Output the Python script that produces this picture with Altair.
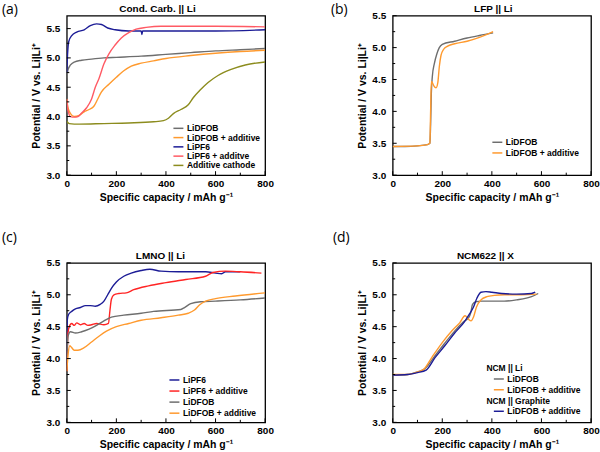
import altair as alt
import pandas as pd

FONT = "Liberation Sans"
W, H = 199, 160

X_TICKS = [0, 200, 400, 600, 800]
X_MINOR = [100, 300, 500, 700]
Y_TICKS = [3.0, 3.5, 4.0, 4.5, 5.0, 5.5]
Y_MINOR = [3.25, 3.75, 4.25, 4.75, 5.25]

GREY, ORANGE, BLUE, PINK, OLIVE, RED = "#6e6e6e", "#ff9a2e", "#1c1c96", "#ff5a64", "#8c8c1e", "#ff2424"

# ---------------- Panel (a): Cond. Carb. || Li ----------------
a_dfob_x = [0, 5, 15, 30, 60, 100, 150, 200, 300, 400, 500, 600, 700, 800]
a_dfob_y = [4.65, 4.8, 4.88, 4.93, 4.96, 4.98, 5.0, 5.01, 5.03, 5.06, 5.09, 5.12, 5.14, 5.16]
a_dfobadd_x = [0, 5, 15, 30, 50, 70, 90, 110, 125, 140, 170, 200, 230, 260, 300, 350, 400, 500, 600, 700, 800]
a_dfobadd_y = [4.3, 4.15, 4.05, 4.0, 4.02, 4.08, 4.12, 4.18, 4.3, 4.42, 4.55, 4.67, 4.78, 4.86, 4.91, 4.95, 4.99, 5.04, 5.08, 5.11, 5.13]
a_pf6_x = [0, 3, 8, 20, 40, 70, 95, 120, 140, 165, 195, 250, 300, 303, 306, 400, 600, 800]
a_pf6_y = [4.75, 5.05, 5.28, 5.38, 5.44, 5.48, 5.55, 5.58, 5.57, 5.51, 5.48, 5.46, 5.46, 5.40, 5.46, 5.46, 5.46, 5.48]
a_pf6add_x = [0, 5, 15, 30, 45, 60, 80, 100, 115, 130, 150, 170, 195, 220, 250, 280, 320, 380, 500, 600, 800]
a_pf6add_y = [4.3, 4.1, 4.0, 3.99, 4.0, 4.06, 4.15, 4.3, 4.5, 4.65, 4.9, 5.07, 5.22, 5.34, 5.43, 5.49, 5.52, 5.54, 5.54, 5.54, 5.53]
a_cath_x = [0, 10, 50, 150, 250, 350, 390, 410, 430, 460, 490, 510, 540, 570, 610, 660, 720, 800]
a_cath_y = [3.92, 3.88, 3.87, 3.88, 3.89, 3.91, 3.93, 3.97, 4.05, 4.12, 4.2, 4.32, 4.46, 4.58, 4.7, 4.8, 4.88, 4.93]

# ---------------- Panel (b): LFP || Li ----------------
b_dfob_x = [0, 50, 100, 140, 150, 153, 156, 160, 168, 178, 188, 200, 250, 300, 350, 405]
b_dfob_y = [3.45, 3.45, 3.46, 3.48, 3.5, 3.8, 4.3, 4.55, 4.75, 4.9, 5.0, 5.05, 5.1, 5.15, 5.19, 5.23]
b_dfobadd_x = [0, 100, 140, 150, 153, 156, 160, 166, 175, 182, 188, 195, 205, 220, 250, 300, 350, 405]
b_dfobadd_y = [3.45, 3.46, 3.48, 3.5, 4.0, 4.47, 4.45, 4.4, 4.37, 4.45, 4.7, 4.88, 4.97, 5.02, 5.06, 5.1, 5.16, 5.25]

# ---------------- Panel (c): LMNO || Li ----------------
c_pf6_x = [0, 2, 7, 20, 35, 55, 75, 95, 115, 135, 150, 165, 180, 200, 230, 260, 300, 335, 380, 450, 560, 600, 625, 640, 700]
c_pf6_y = [3.9, 4.6, 4.69, 4.74, 4.78, 4.8, 4.83, 4.83, 4.82, 4.85, 4.9, 5.0, 5.1, 5.2, 5.29, 5.34, 5.38, 5.4, 5.37, 5.36, 5.36, 5.34, 5.33, 5.36, 5.36]
c_pf6add_x = [0, 5, 12, 20, 30, 40, 55, 70, 85, 100, 120, 150, 168, 174, 180, 190, 210, 240, 270, 330, 400, 480, 560, 590, 640, 700, 785]
c_pf6add_y = [3.8, 4.4, 4.52, 4.55, 4.52, 4.56, 4.53, 4.55, 4.52, 4.53, 4.55, 4.53, 4.55, 4.75, 4.93, 5.0, 5.02, 5.03, 5.08, 5.14, 5.19, 5.24, 5.29, 5.35, 5.37, 5.36, 5.34]
c_dfob_x = [0, 5, 15, 35, 60, 90, 120, 150, 180, 230, 300, 350, 460, 475, 500, 540, 600, 700, 800]
c_dfob_y = [3.95, 4.35, 4.42, 4.4, 4.42, 4.46, 4.52, 4.59, 4.65, 4.68, 4.71, 4.74, 4.77, 4.8, 4.86, 4.89, 4.9, 4.92, 4.95]
c_dfobadd_x = [0, 5, 12, 18, 30, 45, 70, 100, 130, 160, 200, 250, 300, 380, 450, 490, 515, 535, 560, 600, 680, 800]
c_dfobadd_y = [3.8, 4.05, 4.2, 4.18, 4.13, 4.13, 4.17, 4.26, 4.35, 4.43, 4.5, 4.55, 4.6, 4.64, 4.68, 4.71, 4.76, 4.84, 4.9, 4.94, 4.98, 5.03]

# ---------------- Panel (d): NCM622 || X ----------------
d_li_dfob_x = [0, 60, 100, 130, 170, 210, 250, 290, 305, 315, 322, 335, 360, 450, 500, 560, 587]
d_li_dfob_y = [3.74, 3.75, 3.79, 3.84, 4.04, 4.24, 4.43, 4.59, 4.63, 4.72, 4.85, 4.89, 4.9, 4.9, 4.92, 4.97, 5.02]
d_li_dfobadd_x = [0, 60, 100, 125, 160, 200, 240, 270, 292, 305, 316, 326, 338, 356, 380, 410, 450, 520, 580]
d_li_dfobadd_y = [3.75, 3.75, 3.79, 3.83, 4.03, 4.25, 4.44, 4.56, 4.67, 4.62, 4.59, 4.65, 4.81, 4.92, 4.97, 4.99, 5.0, 5.0, 5.01]
d_gr_dfobadd_x = [0, 60, 100, 135, 170, 210, 250, 290, 310, 325, 340, 356, 376, 400, 440, 500, 560, 575]
d_gr_dfobadd_y = [3.74, 3.75, 3.78, 3.82, 4.01, 4.2, 4.4, 4.58, 4.7, 4.8, 4.95, 5.04, 5.05, 5.04, 5.02, 5.01, 5.02, 5.04]

XTITLE = "Specific capacity / mAh g⁻¹"
YTITLE = "Potential / V vs. Li|Li⁺"

ONE = pd.DataFrame({"a": [0]})


def make_panel(series, ydom, title, title_dx, label, label_dx, label_dy, legend, anchor=None):
    rows = []
    for key, xs, ys, col in series:
        for i, (x, y) in enumerate(zip(xs, ys)):
            rows.append({"s": key, "cap": x, "v": y, "i": i})
    df = pd.DataFrame(rows)
    xsc = alt.Scale(domain=[0, 800], nice=False, zero=False)
    ysc = alt.Scale(domain=ydom, nice=False, zero=False)
    xax = alt.Axis(values=X_TICKS, title=XTITLE, labelPadding=3, titlePadding=4, labelFlush=False)
    yax = alt.Axis(values=Y_TICKS, format=".1f", title=YTITLE, labelPadding=7, titlePadding=4, labelFlush=False)

    lines = alt.Chart(df).mark_line(strokeWidth=1.4, interpolate="monotone", clip=True).encode(
        x=alt.X("cap:Q", scale=xsc, axis=xax),
        y=alt.Y("v:Q", scale=ysc, axis=yax),
        color=alt.Color("s:N", scale=alt.Scale(domain=[s[0] for s in series], range=[s[3] for s in series]),
                        legend=None),
        order="i:Q",
    )

    layers = [lines]
    for vals, ln in ((X_TICKS, 4), (X_MINOR, 2.5)):
        layers.append(alt.Chart(pd.DataFrame({"cap": vals})).mark_rule(color="black", strokeWidth=1).encode(
            x=alt.X("cap:Q", scale=xsc, axis=xax), y=alt.value(H), y2=alt.value(H - ln)))
    for vals, ln in ((Y_TICKS, 4), (Y_MINOR, 2.5)):
        layers.append(alt.Chart(pd.DataFrame({"v": vals})).mark_rule(color="black", strokeWidth=1).encode(
            y=alt.Y("v:Q", scale=ysc, axis=yax), x=alt.value(0), x2=alt.value(ln)))

    # legend entries (pixel placement inside the plot area)
    for lab, col, lx, ly, tx in legend:
        if col:
            layers.append(alt.Chart(ONE).mark_rule(strokeWidth=1.5, color=col).encode(
                x=alt.value(lx), x2=alt.value(lx + 10), y=alt.value(ly)))
        layers.append(alt.Chart(ONE).mark_text(text=lab, align="left", baseline="middle", font=FONT,
                                               fontWeight="bold", fontSize=8.5, color="black").encode(
            x=alt.value(tx), y=alt.value(ly)))

    layers.append(alt.Chart(ONE).mark_text(text=title, align="center", baseline="alphabetic", font=FONT,
                                           fontWeight="bold", fontSize=10, color="black").encode(
        x=alt.value(title_dx), y=alt.value(-4)))
    layers.append(alt.Chart(ONE).mark_text(text=label, align="left", baseline="top", font="Open Sans",
                                           fontSize=14, color="black").encode(
        x=alt.value(label_dx), y=alt.value(label_dy)))
    if anchor:
        layers.append(alt.Chart(ONE).mark_rule(strokeWidth=0, opacity=0).encode(
            x=alt.value(anchor[0]), x2=alt.value(anchor[0] + 1), y=alt.value(anchor[1])))
    return alt.layer(*layers).properties(width=W, height=H)


def leg_rows(labels, colors, x0, y0, dy, hx=None):
    out = []
    for k, (lab, col) in enumerate(zip(labels, colors)):
        t = (x0 + 13.5) if col else hx
        out.append([lab, col, x0, y0 + k * dy, t])
    return out


pa = make_panel(
    [("LiDFOB", a_dfob_x, a_dfob_y, GREY), ("LiDFOB + additive", a_dfobadd_x, a_dfobadd_y, ORANGE),
     ("LiPF6", a_pf6_x, a_pf6_y, BLUE), ("LiPF6 + additve", a_pf6add_x, a_pf6add_y, PINK),
     ("Additive cathode", a_cath_x, a_cath_y, OLIVE)],
    [3.0, 5.72], "Cond. Carb. || Li", 91, "(a)", -65, -13,
    leg_rows(["LiDFOB", "LiDFOB + additive", "LiPF6", "LiPF6 + additve", "Additive cathode"],
             [GREY, ORANGE, BLUE, PINK, OLIVE], 107, 113, 9.3),
    anchor=(-66, -14))

pb = make_panel(
    [("LiDFOB", b_dfob_x, b_dfob_y, GREY), ("LiDFOB + additive", b_dfobadd_x, b_dfobadd_y, ORANGE)],
    [3.0, 5.5], "LFP || Li", 101, "(b)", -62, -13,
    leg_rows(["LiDFOB", "LiDFOB + additive"], [GREY, ORANGE], 100, 127, 10.7))

pc = make_panel(
    [("LiPF6", c_pf6_x, c_pf6_y, BLUE), ("LiPF6 + additive", c_pf6add_x, c_pf6add_y, RED),
     ("LiDFOB", c_dfob_x, c_dfob_y, GREY), ("LiDFOB + additive", c_dfobadd_x, c_dfobadd_y, ORANGE)],
    [3.0, 5.5], "LMNO || Li", 94, "(c)", -65, -32,
    leg_rows(["LiPF6", "LiPF6 + additive", "LiDFOB", "LiDFOB + additive"], [BLUE, RED, GREY, ORANGE],
             103, 117.5, 11.1))

pd_ = make_panel(
    [("Li: LiDFOB", d_li_dfob_x, d_li_dfob_y, GREY), ("Li: LiDFOB + additive", d_li_dfobadd_x, d_li_dfobadd_y, ORANGE),
     ("Gr: LiDFOB + additive", d_gr_dfobadd_x, d_gr_dfobadd_y, BLUE)],
    [3.0, 5.5], "NCM622 || X", 93, "(d)", -60, -32,
    leg_rows(["NCM || Li", "LiDFOB", "LiDFOB + additive", "NCM || Graphite", "LiDFOB + additive"],
             ["", GREY, ORANGE, "", BLUE], 101.5, 105.7, 10.8, hx=94))

chart = alt.concat(pa, pb, pc, pd_, columns=2, spacing={"row": 88, "column": 128}, bounds="flush").resolve_scale(
    color="independent"
).properties(
    padding=0
).configure_view(stroke="black", strokeWidth=1.3).configure_axis(
    domain=False, ticks=False, grid=False, labelFont=FONT, labelFontWeight="bold", labelFontSize=10,
    labelColor="black", titleFont=FONT, titleFontWeight="bold", titleFontSize=10.5, titleColor="black"
)

chart.save("out.html", embed_options={"renderer": "svg", "actions": False})
